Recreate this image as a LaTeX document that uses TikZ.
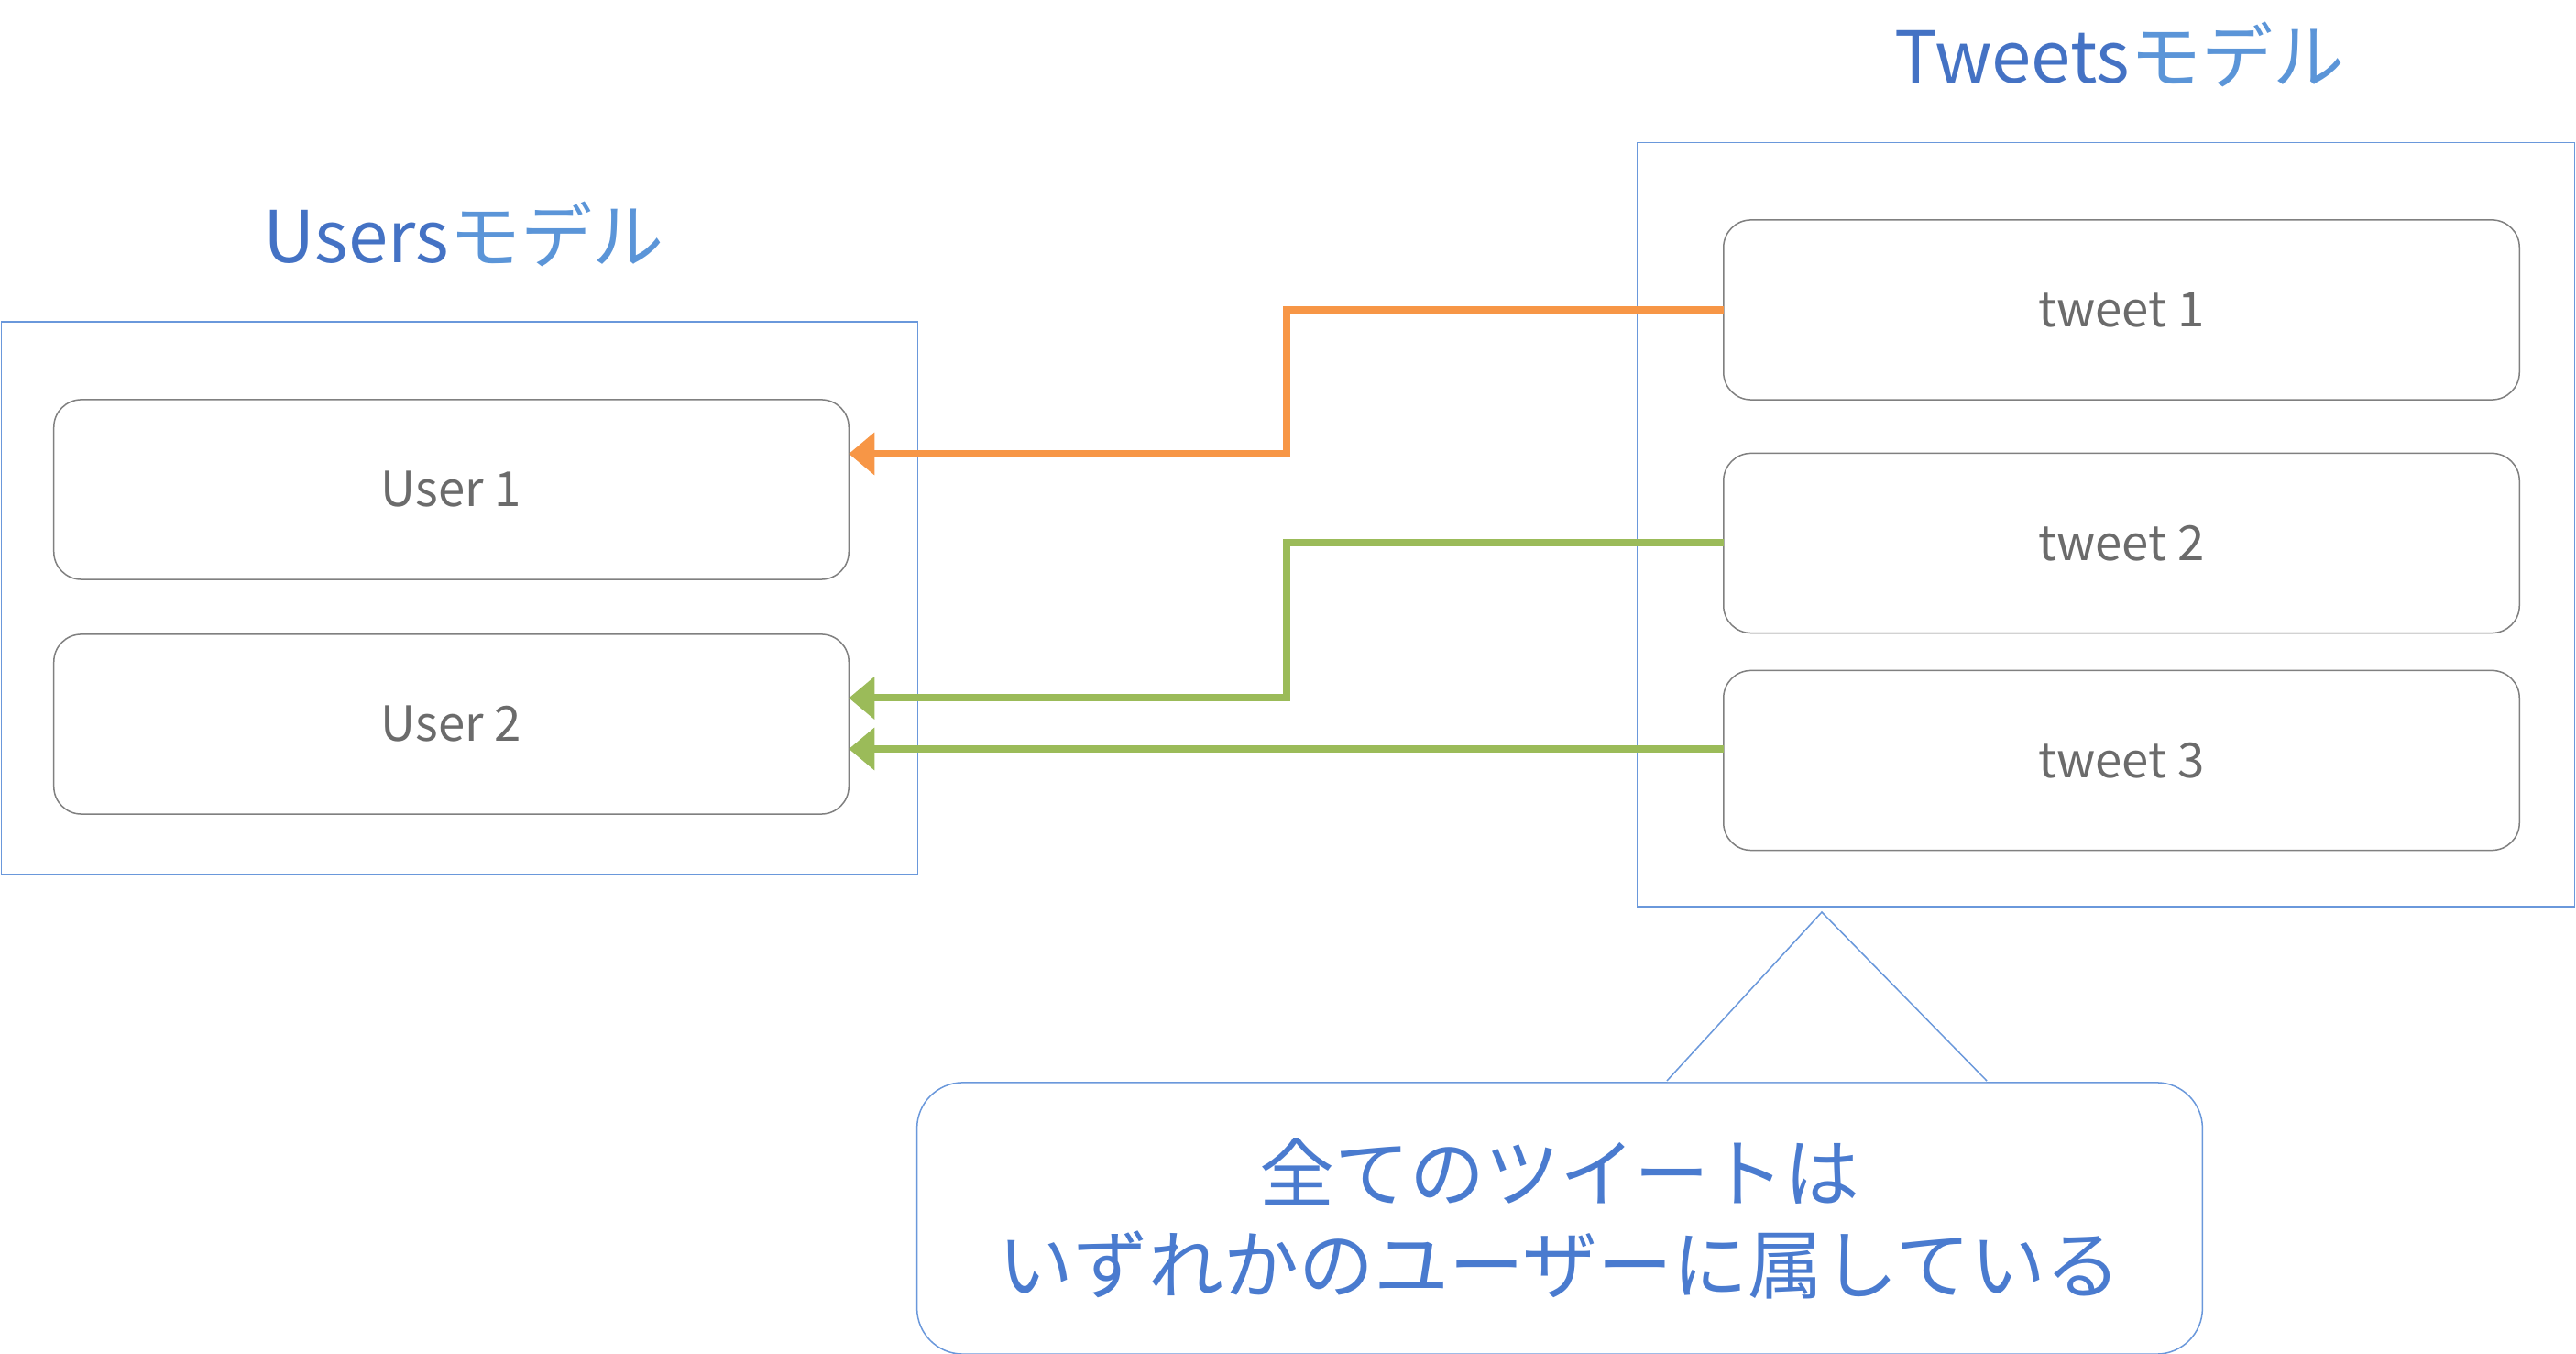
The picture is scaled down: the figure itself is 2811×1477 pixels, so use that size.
\documentclass[tikz,border=0pt]{standalone}
\usepackage{fontspec}
\setmainfont{Noto Sans CJK JP}
\usetikzlibrary{arrows.meta}
\definecolor{frameblue}{HTML}{6A98DB}
\definecolor{titledark}{HTML}{4472C4}
\definecolor{titlelight}{HTML}{5B95D8}
\definecolor{notetext}{HTML}{4A7BCF}
\definecolor{boxgray}{HTML}{808080}
\definecolor{labelgray}{HTML}{6B6B6B}
\definecolor{linkorange}{HTML}{F79646}
\definecolor{linkgreen}{HTML}{9BBB59}

\begin{document}
\begin{tikzpicture}[x=0.01cm, y=-0.01cm,
    modelframe/.style={draw=frameblue, line width=0.015cm, inner sep=0pt, outer sep=0pt},
    recordbox/.style={draw=boxgray, line width=0.015cm, rounded corners=0.3cm, fill=white,
        minimum height=1.96cm, inner sep=0pt, outer sep=0pt, text=labelgray,
        font=\fontsize{15}{18}\selectfont},
    modeltitle/.style={inner sep=0pt, font=\fontsize{22.2}{26}\selectfont},
    link/.style={draw=#1, line width=0.08cm, -{Triangle[length=0.28cm, width=0.45cm]}},
    calloutline/.style={draw=frameblue, line width=0.015cm}]
                \useasboundingbox (0,0) rectangle (2811,1477);

                \node[modelframe, minimum width=9.99cm, minimum height=6.03cm] (usersframe) at (501.5,652.5) {};
                \node[modeltitle, anchor=base] (userstitle) at (506,287) {\textcolor{titledark}{Users}\textcolor{titlelight}{モデル}};
                \node[recordbox, minimum width=8.67cm] (user1) at (492.5,534) {User 1};
                \node[recordbox, minimum width=8.67cm] (user2) at (492.5,790) {User 2};

                \node[modelframe, minimum width=10.22cm, minimum height=8.33cm] (tweetsframe) at (2298,572.5) {};
                \node[modeltitle, anchor=base] (tweetstitle) at (2313,91) {\textcolor{titledark}{Tweets}\textcolor{titlelight}{モデル}};
                \node[recordbox, minimum width=8.68cm] (tweet1) at (2315,338) {tweet 1};
                \node[recordbox, minimum width=8.68cm] (tweet2) at (2315,592.5) {tweet 2};
                \node[recordbox, minimum width=8.68cm] (tweet3) at (2315,829.5) {tweet 3};

                \draw[link=linkorange] (tweet1.west) -- ++(-477,0) |- ([yshift=0.39cm]user1.east);
                \draw[link=linkgreen] (tweet2.west) -- ++(-477,0) |- ([yshift=0.285cm]user2.east);
                \draw[link=linkgreen] ([yshift=0.125cm]tweet3.west) -- ([yshift=0.125cm]tweet3.west -| user2.east);

                \node[calloutline, rounded corners=0.5cm, fill=white, minimum width=14.02cm, minimum height=2.96cm,
                    inner sep=0pt, align=center, text=notetext, font=\fontsize{23.3}{28.5}\selectfont]
                    (note) at (1702,1329) {全てのツイートは\\いずれかのユーザーに属している};
                \coordinate (tip) at (1988,995);
                \coordinate (baseL) at (1819,1179);
                \coordinate (baseR) at (2168,1179);
                \fill[white] ([yshift=-0.012cm]baseL) -- (tip) -- ([yshift=-0.012cm]baseR) -- cycle;
                \draw[calloutline] (baseL) -- (tip) -- (baseR);
            \end{tikzpicture}
\end{document}
